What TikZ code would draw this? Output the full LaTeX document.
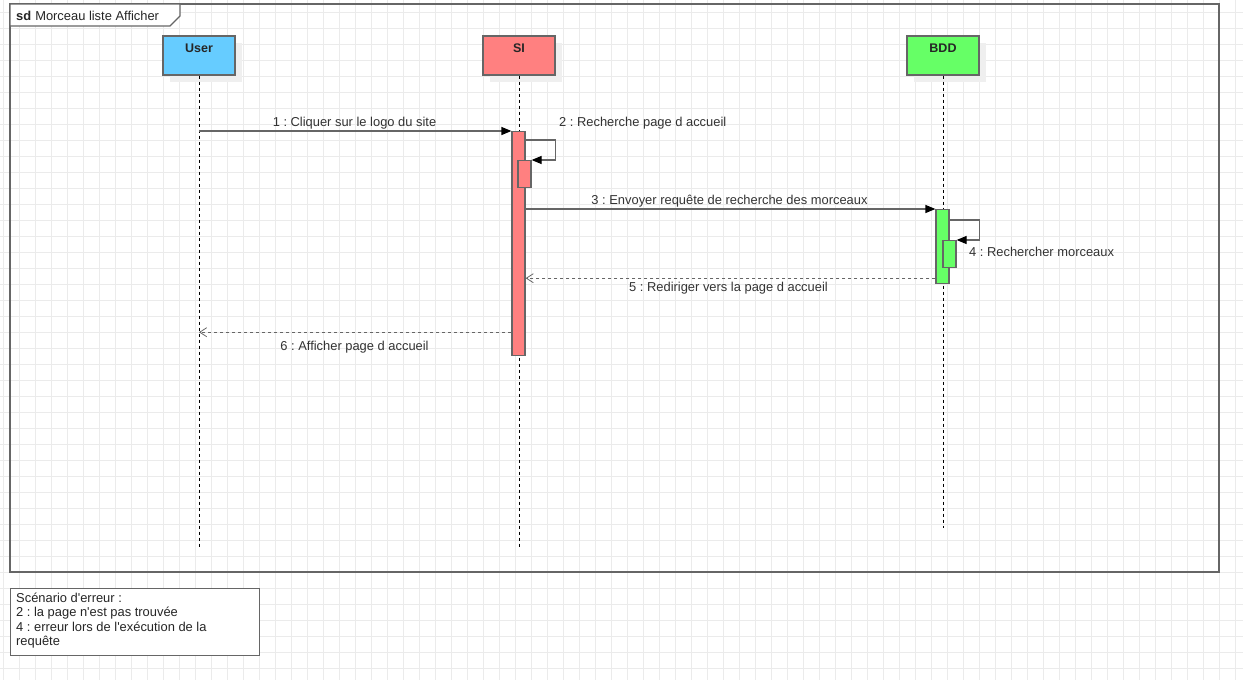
\documentclass[tikz,border=0pt]{standalone}
\usepackage{fontspec}
\setmainfont{Liberation Sans}[Ligatures=TeXOff]
\usetikzlibrary{arrows.meta,calc}
\frenchspacing
\definecolor{gridc}{HTML}{EBEBEB}
\definecolor{edge}{HTML}{666666}
\definecolor{txt}{HTML}{333333}
\definecolor{userc}{HTML}{66CCFF}
\definecolor{sic}{HTML}{FF8080}
\definecolor{bddc}{HTML}{66FF66}
\definecolor{shadowc}{HTML}{EFEFEF}
\tikzset{
  head/.style={draw=edge, line width=1.2pt, minimum width=72pt, minimum height=39pt, inner sep=0pt},
  headtxt/.style={font=\fontsize{12.5}{14}\selectfont\bfseries, text=black!85, inner sep=0pt},
  lifeline/.style={black, line width=0.8pt, dash pattern=on 3pt off 3pt},
  act/.style={draw=edge, line width=1.2pt, minimum width=13pt, inner sep=0pt, anchor=north},
  msg/.style={edge, line width=1.2pt, -{Triangle[length=10pt,width=8pt,color=black]}},
  ret/.style={edge, line width=1.2pt, dash pattern=on 3pt off 3pt, -{Straight Barb[length=7pt,width=9pt,line width=0.8pt]}},
  lbl/.style={font=\fontsize{12.9}{14.4}\selectfont, text=txt, inner sep=0pt},
}
\begin{document}
\begin{tikzpicture}[x=1pt,y=-1pt]
\useasboundingbox (0,0) rectangle (1243,680);
\fill[white] (0,0) rectangle (1243,680);
% grid
\foreach \gx in {3,19,...,1243} \draw[gridc, line width=0.8pt] (\gx,0) -- (\gx,680);
\foreach \gy in {12,28,...,680} \draw[gridc, line width=0.8pt] (0,\gy) -- (1243,\gy);
% frame
\draw[edge, line width=1.2pt] (10,4) rectangle (1219,572);
\draw[edge, line width=1.2pt, fill=white] (10,4) -- (180,4) -- (180,16) -- (170,26) -- (10,26) -- cycle;
\node[lbl, text=black!85, anchor=west] (framelbl) at (16,15.5) {\textbf{sd}\hspace{4pt}Morceau liste Afficher};
% shadows
\fill[shadowc] (170,43) rectangle (242,82);
\fill[shadowc] (490,43) rectangle (562,82);
\fill[shadowc] (914,43) rectangle (986,82);
% heads
\node[head, fill=userc] (user) at (199,55.5) {};
\node[head, fill=sic] (si) at (519,55.5) {};
\node[head, fill=bddc] (bdd) at (943,55.5) {};
\node[headtxt] (userlbl) at (199,48.5) {User};
\node[headtxt] (silbl) at (519,48.5) {SI};
\node[headtxt] (bddlbl) at (943,48.5) {BDD};
% lifelines
\coordinate (userend) at (199,547);
\coordinate (siend) at (519,547);
\coordinate (bddend) at (943,528);
\draw[lifeline] (user.south) -- (userend);
\draw[lifeline] (si.south) -- (siend);
\draw[lifeline] (bdd.south) -- (bddend);
% activations
\node[act, fill=sic, minimum height=224pt] (siact) at (518.5,131) {};
\node[act, fill=sic, minimum height=27pt] (sisub) at (524.5,160) {};
\node[act, fill=bddc, minimum height=74pt] (bddact) at (942.5,209) {};
\node[act, fill=bddc, minimum height=27pt] (bddsub) at (949.5,240) {};
% messages
\draw[msg] (userend |- siact.north west) -- (siact.north west);
\node[lbl] (m1) at (354.5,123.5) {1 : Cliquer sur le logo du site};
\draw[msg] ($(siact.north east)+(0,9)$) -- ++(30,0) |- (sisub.north east);
\node[lbl, anchor=west] (m2) at (559,123.5) {2 : Recherche page d accueil};
\draw[msg] (siact.east |- bddact.north west) -- (bddact.north west);
\node[lbl] (m3) at (729.5,201.5) {3 : Envoyer requête de recherche des morceaux};
\draw[msg] ($(bddact.north east)+(0,11)$) -- ++(30,0) |- (bddsub.north east);
\node[lbl, anchor=west] (m4) at (969,251.5) {4 : Rechercher morceaux};
\draw[ret] ($(bddact.south west)+(0,-6)$) -- ($(siact.east |- bddact.south west)+(0,-6)$);
\node[lbl] (m5) at (728.5,288.5) {5 : Rediriger vers la page d accueil};
\draw[ret] ($(siact.south west)+(0,-24)$) -- ($(userend |- siact.south west)+(0,-24)$);
\node[lbl] (m6) at (354.5,347.5) {6 : Afficher page d accueil};
% note
\node[draw=edge, line width=1.2pt, fill=white, anchor=north west, minimum width=249pt, minimum height=67pt, inner sep=0pt] (note) at (10,588) {};
\node[lbl, anchor=north west, align=left, text=black!85] (notetxt) at (16,592.5) {Scénario d'erreur :\\2 : la page n'est pas trouvée\\4 : erreur lors de l'exécution de la\\requête};
\end{tikzpicture}
\end{document}
